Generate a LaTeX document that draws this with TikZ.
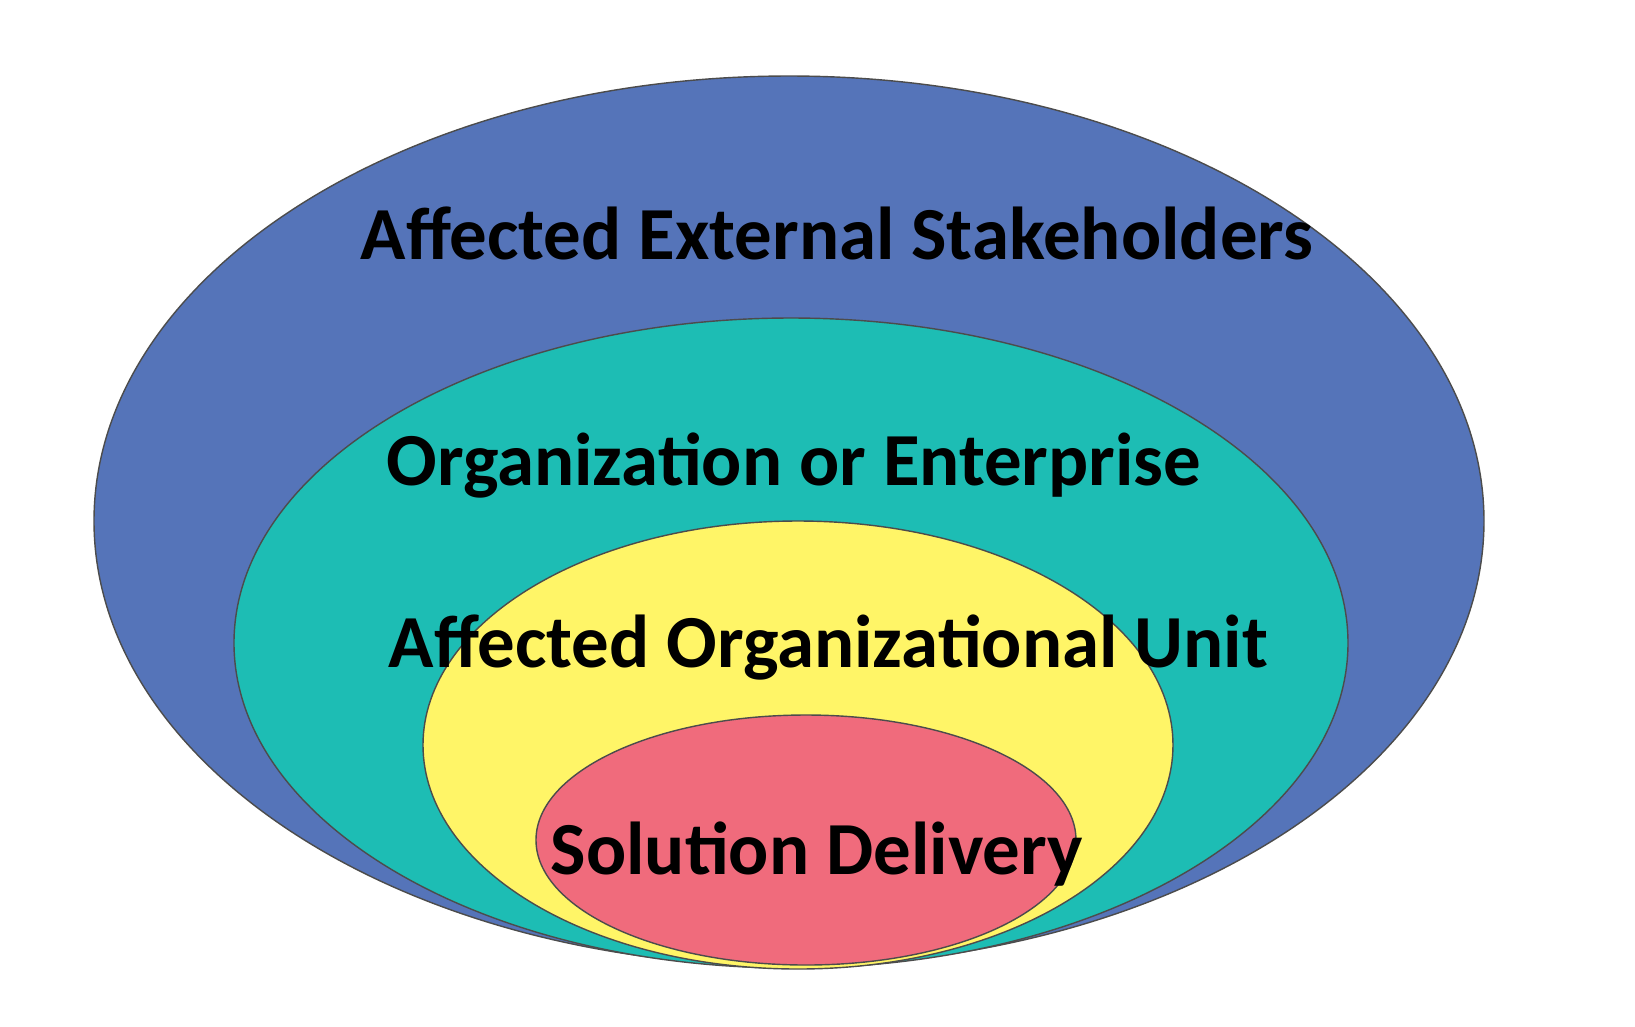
\documentclass[tikz,border=0pt]{standalone}
\usepackage{fontspec}
\setmainfont{Carlito}
\usepackage{xcolor}
\definecolor{colorExternal}{HTML}{5574B9}
\definecolor{colorEnterprise}{HTML}{1DBDB4}
\definecolor{colorUnit}{HTML}{FFF567}
\definecolor{colorDelivery}{HTML}{F06B7C}
\usetikzlibrary{positioning}
\tikzset{ring/.style={draw=black!70, line width=0.4pt}}

\begin{document}
\begin{tikzpicture}[x=0.01cm, y=-0.01cm, every node/.style={font=\fontsize{21.3}{25}\selectfont\bfseries, anchor=base west, inner sep=0pt}]
\useasboundingbox (0,0) rectangle (1635,1026);
\fill[white] (0,0) rectangle (1635,1026);
\draw[ring, fill=colorExternal] (789,521) ellipse [x radius=695, y radius=445];
\draw[ring, fill=colorEnterprise] (791,643) ellipse [x radius=557, y radius=325];
\draw[ring, fill=colorUnit] (798,745) ellipse [x radius=375, y radius=224];
\draw[ring, fill=colorDelivery] (806,840) ellipse [x radius=270, y radius=125];
\node (external) at (360,259) {Affected External Stakeholders};
\node (enterprise) at (386,485) {Organization or Enterprise};
\node (unit) at (388,667) {Affected Organizational Unit};
\node (delivery) at (550,874) {Solution Delivery};
\end{tikzpicture}
\end{document}
